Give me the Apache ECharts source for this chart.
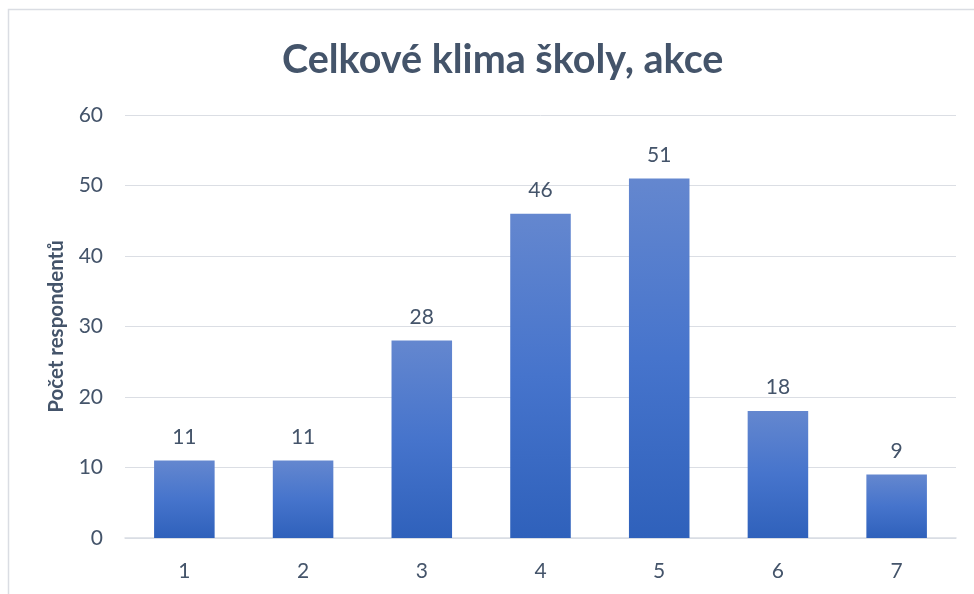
<!DOCTYPE html>
<html><head><meta charset="utf-8">
<script src="https://cdn.jsdelivr.net/npm/echarts@6/dist/echarts.min.js"></script>
<style>html,body{margin:0;padding:0;background:#fff}#c{width:974px;height:594px}</style>
</head><body><div id="c"></div>
<script>
const categories = ['1','2','3','4','5','6','7'];
const values = [11, 11, 28, 46, 51, 18, 9];
const titleText = 'Celkové klima školy, akce';
const yAxisName = 'Počet respondentů';

const chart = echarts.init(document.getElementById('c'));
const txt = '#44546a';
chart.setOption({
  animation: false,
  backgroundColor: '#fff',
  graphic: [{type:'rect', shape:{x:8.5,y:9.5,width:980,height:600}, style:{fill:'none', stroke:'#dadde3', lineWidth:1.5}, silent:true}],
  title: {text: titleText, left: 'center', right: 0, left: 20, textAlign: 'left', top: 35, textStyle:{fontFamily:'Lato', fontWeight:'bold', fontSize:39.5, color:txt}},
  grid: {left:125, right:18, top:115, bottom:56},
  xAxis: {type:'category', data: categories,
    axisLine:{lineStyle:{color:'#d9dde3', width:1.5}}, axisTick:{show:false},
    axisLabel:{fontFamily:'Lato', fontSize:21, color:txt, margin:23}},
  yAxis: {type:'value', min:0, max:60, interval:10,
    name: yAxisName, nameLocation:'middle', nameGap:58, nameRotate:90,
    nameTextStyle:{fontFamily:'Lato', fontWeight:'bold', fontSize:20.5, color:txt},
    axisLine:{show:false}, axisTick:{show:false},
    axisLabel:{fontFamily:'Lato', fontSize:21, color:txt, margin:22}},
  series: [{type:'bar', data: values, barWidth:'51%',
    itemStyle:{color: new echarts.graphic.LinearGradient(0,0,0,1,[{offset:0,color:'#6487cf'},{offset:0.5,color:'#4674cc'},{offset:1,color:'#2f61bb'}])},
    label:{show:true, position:'top', distance:13, fontFamily:'Lato', fontSize:21, color:txt}}]
});
chart.setOption({title: {left: 277}});
</script></body></html>
